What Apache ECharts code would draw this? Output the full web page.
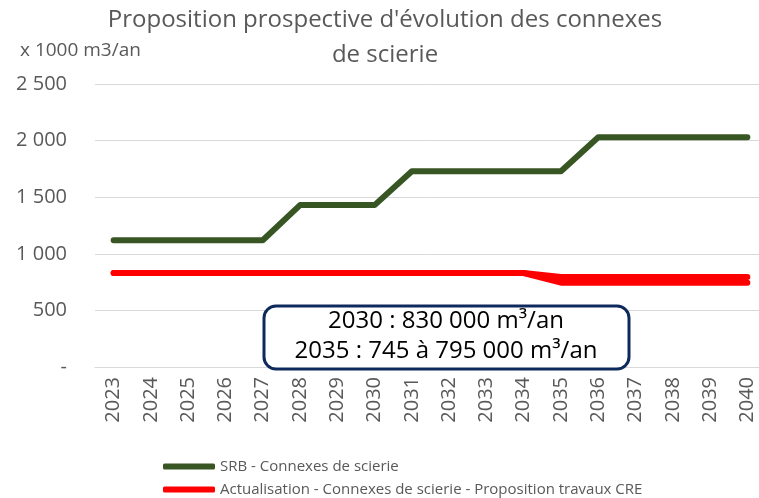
<!DOCTYPE html>
<html>
<head>
<meta charset="utf-8">
<script src="https://cdn.jsdelivr.net/npm/echarts@6/dist/echarts.min.js"></script>
<style>
  html, body { margin: 0; padding: 0; background: #fff; overflow: hidden; }
  #chart { width: 770px; height: 498px; }
</style>
</head>
<body>
<div id="chart"></div>
<script>
  var years = ['2023','2024','2025','2026','2027','2028','2029','2030','2031','2032','2033','2034','2035','2036','2037','2038','2039','2040'];
  var srb = [1120,1120,1120,1120,1120,1430,1430,1430,1730,1730,1730,1730,1730,2030,2030,2030,2030,2030];
  var actuHaut = [830,830,830,830,830,830,830,830,830,830,830,830,795,795,795,795,795,795];
  var actuBas = [830,830,830,830,830,830,830,830,830,830,830,830,745,745,745,745,745,745];
  var nomSrb = 'SRB - Connexes de scierie';
  var nomActu = 'Actualisation - Connexes de scierie - Proposition travaux CRE';

  var font = 'Open Sans';
  var grey = '#595959';
  var myChart = echarts.init(document.getElementById('chart'));

  function fmt(v) {
    if (v === 0) return '-';
    return String(v).replace(/\B(?=(\d{3})+(?!\d))/g, ' ');
  }

  var legendBase = {
    orient: 'horizontal',
    left: 158,
    itemWidth: 52,
    itemHeight: 6,
    icon: 'roundRect',
    textStyle: { color: grey, fontFamily: font, fontSize: 15 }
  };

  myChart.setOption({
    animation: false,
    title: {
      text: "Proposition prospective d'évolution des connexes\nde scierie",
      left: 'center',
      top: 0,
      padding: [3, 0, 3, 6],
      textStyle: { color: grey, fontFamily: font, fontWeight: 'normal', fontSize: 24, lineHeight: 35 }
    },
    legend: [
      Object.assign({}, legendBase, { top: 454, data: [nomSrb] }),
      Object.assign({}, legendBase, { top: 477, data: [nomActu] })
    ],
    grid: { left: 95, right: 4, top: 84, bottom: 131 },
    xAxis: {
      type: 'category',
      data: years,
      boundaryGap: true,
      axisLine: { lineStyle: { color: '#d9d9d9' } },
      axisTick: { show: false },
      axisLabel: { rotate: 90, color: grey, fontFamily: font, fontSize: 20, margin: 10, interval: 0 }
    },
    yAxis: {
      type: 'value',
      min: 0,
      max: 2500,
      interval: 500,
      name: 'x 1000 m3/an',
      nameLocation: 'end',
      nameGap: 24,
      nameTextStyle: { color: grey, fontFamily: font, fontSize: 19, align: 'left', padding: [0, 0, 0, -75] },
      axisLine: { show: false },
      axisTick: { show: false },
      splitLine: { lineStyle: { color: '#d9d9d9', width: 1 } },
      axisLabel: { color: grey, fontFamily: font, fontSize: 20, margin: 28, formatter: fmt }
    },
    series: [
      {
        name: nomSrb, type: 'line', data: srb, showSymbol: false, symbol: 'none',
        itemStyle: { color: '#375623' },
        lineStyle: { color: '#375623', width: 6, cap: 'round', join: 'round' }
      },
      {
        name: nomActu, type: 'line', data: actuHaut, showSymbol: false, symbol: 'none',
        itemStyle: { color: '#ff0000' },
        lineStyle: { color: '#ff0000', width: 6, cap: 'round', join: 'round' }
      },
      {
        name: nomActu, type: 'line', data: actuBas, showSymbol: false, symbol: 'none',
        itemStyle: { color: '#ff0000' },
        lineStyle: { color: '#ff0000', width: 6, cap: 'round', join: 'round' }
      }
    ],
    graphic: [
      {
        type: 'rect',
        shape: { x: 264, y: 306, width: 365, height: 63, r: 12 },
        style: { fill: '#fff', stroke: '#0e2a5c', lineWidth: 3 },
        z: 100
      },
      {
        type: 'text',
        style: {
          text: '2030 : 830 000 m³/an\n2035 : 745 à 795 000 m³/an',
          x: 446, y: 336,
          fill: '#000', fontFamily: font, fontSize: 24, lineHeight: 30,
          align: 'center', verticalAlign: 'middle'
        },
        z: 101
      }
    ]
  });
</script>
</body>
</html>
